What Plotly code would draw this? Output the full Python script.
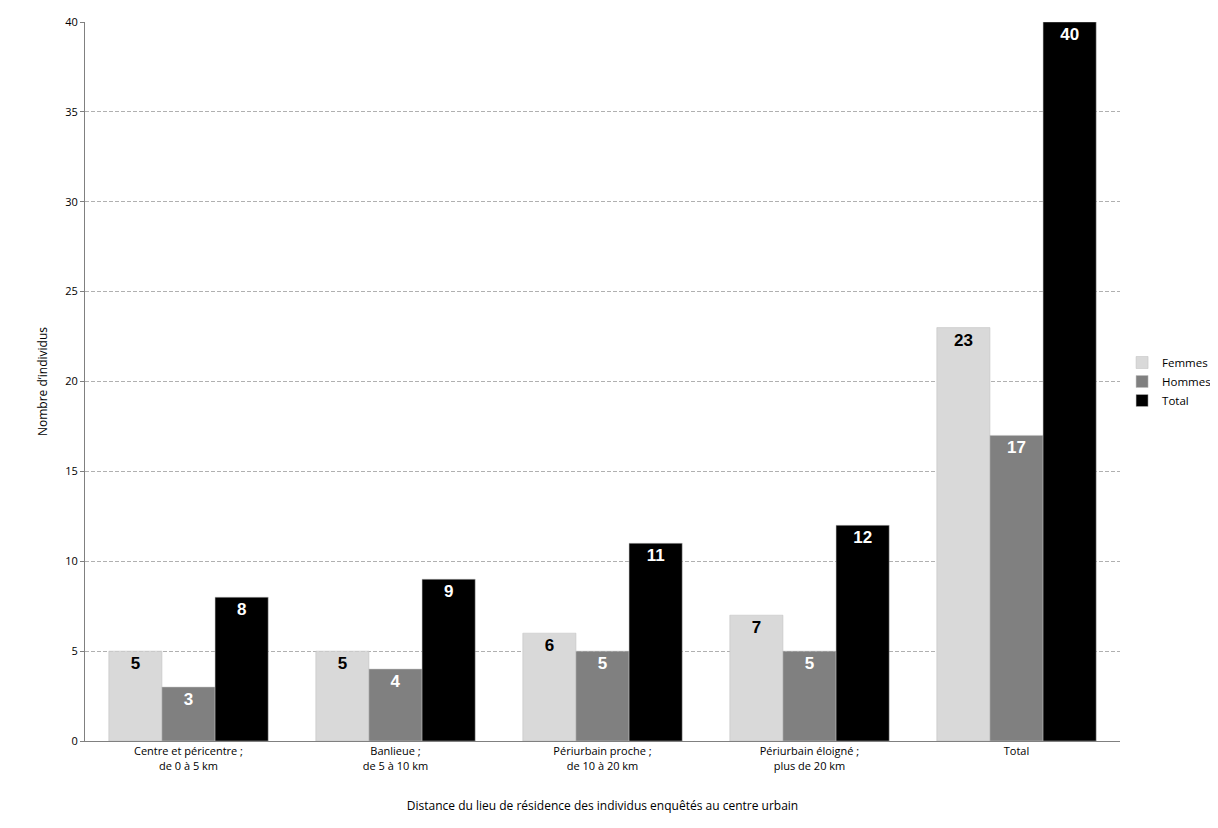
import plotly.graph_objects as go

categories = ["Centre et péricentre ;<br>de 0 à 5 km", "Banlieue ;<br>de 5 à 10 km",
              "Périurbain proche ;<br>de 10 à 20 km", "Périurbain éloigné ;<br>plus de 20 km", "Total"]
femmes = [5, 5, 6, 7, 23]
hommes = [3, 4, 5, 5, 17]
total = [8, 9, 11, 12, 40]

series = [
    ("Femmes", femmes, "#d9d9d9", "black"),
    ("Hommes", hommes, "#808080", "white"),
    ("Total", total, "#000000", "white"),
]

fig = go.Figure()
for name, vals, color, tcolor in series:
    fig.add_trace(go.Bar(
        name=name, x=categories, y=vals, marker=dict(color=color, line=dict(color="#bfbfbf", width=0.5)),
        text=vals, textposition="inside", insidetextanchor="end",
        textfont=dict(color=tcolor, size=17, family="Liberation Sans"), texttemplate="<b>%{text}</b>",
        textangle=0,
    ))

fig.update_layout(
    width=1210, height=820, barmode="group", bargap=0.23, bargroupgap=0,
    plot_bgcolor="white", paper_bgcolor="white",
    font=dict(family="Open Sans", size=11, color="black"),
    margin=dict(l=77, r=98, t=14, b=87, autoexpand=False),
    legend=dict(x=1.002, y=0.5, yanchor="middle", font=dict(size=11.5), itemwidth=30, tracegroupgap=2),
    uniformtext=dict(minsize=8, mode="show"),
    xaxis=dict(showline=True, linecolor="#808080", ticks="", automargin=False, title=dict(
        text="Distance du lieu de résidence des individus enquêtés au centre urbain", font=dict(size=12), standoff=30)),
    yaxis=dict(range=[0, 40], dtick=5, showline=True, linecolor="#808080", ticks="outside", automargin=False,
               ticklen=4, tickcolor="#808080", gridcolor="#b0b0b0", griddash="4px,2px",
               zeroline=False, title=dict(text="Nombre d’individus", font=dict(size=12))),
)
fig.write_html("out.html")
